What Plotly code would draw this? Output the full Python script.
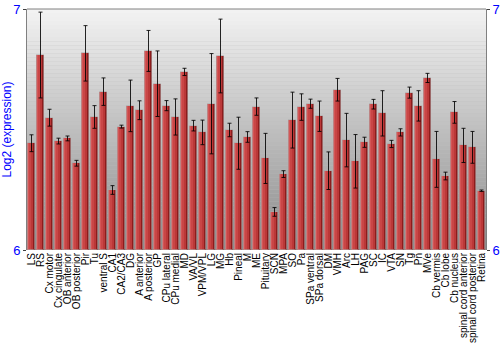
import plotly.graph_objects as go

regions = ["LS", "RS", "Cx motor", "Cx cingulate", "OB anterior", "OB posterior", "Pir", "Tu",
           "ventral S", "CA1", "CA2/CA3", "DG", "A anterior", "A posterior", "GP", "CPu lateral",
           "CPu medial", "MD", "VA/VL", "VPM/VPL", "LG", "MG", "Hb", "Pineal", "M", "ME",
           "Pituitary", "SCN", "MPA", "SO", "Pa", "SPa ventral", "SPa dorsal", "DM", "VMH", "Arc",
           "LH", "PAG", "SC", "IC", "VTA", "SN", "Tg", "Pn", "MVe", "Cb vermis", "Cb lobe",
           "Cb nucleus", "spinal cord anterior", "spinal cord posterior", "Retina"]

expression = [6.443, 6.809, 6.549, 6.452, 6.463, 6.360, 6.816, 6.552,
              6.657, 6.249, 6.512, 6.598, 6.580, 6.826, 6.690, 6.599,
              6.552, 6.739, 6.516, 6.488, 6.607, 6.805, 6.498, 6.443, 6.469, 6.595,
              6.380, 6.158, 6.315, 6.539, 6.593, 6.607, 6.555, 6.329, 6.665, 6.456,
              6.368, 6.447, 6.605, 6.567, 6.440, 6.488, 6.653, 6.598, 6.714, 6.376, 6.307,
              6.571, 6.434, 6.426, 6.246]

errors = [0.035, 0.178, 0.035, 0.012, 0.010, 0.012, 0.115, 0.047,
          0.057, 0.018, 0.006, 0.107, 0.039, 0.085, 0.136, 0.021,
          0.075, 0.015, 0.022, 0.051, 0.208, 0.153, 0.028, 0.108, 0.022, 0.036,
          0.104, 0.018, 0.014, 0.116, 0.055, 0.019, 0.063, 0.078, 0.047, 0.111,
          0.111, 0.021, 0.020, 0.094, 0.015, 0.015, 0.023, 0.063, 0.019, 0.116, 0.016,
          0.045, 0.071, 0.066, 0.003]

y_ticks = [6, 7]

fig = go.Figure()

# red bars with a horizontal light-to-dark shading made of overlaid strips
strips = [
    (-0.44, 0.88, "#a52a2a"),
    (-0.44, 0.62, "#bb3838"),
    (-0.44, 0.36, "#c94646"),
    (-0.40, 0.16, "#d45656"),
    (0.26, 0.18, "#8c1c1c"),
]
for off, w, col in strips:
    fig.add_trace(go.Bar(
        x=regions, y=[v - 6 for v in expression], base=6,
        width=w, offset=off, marker=dict(color=col, line=dict(width=0)),
        hoverinfo="skip", showlegend=False,
    ))

# outline + error bars
fig.add_trace(go.Bar(
    x=regions, y=[v - 6 for v in expression], base=6,
    width=0.88, offset=-0.44,
    marker=dict(color="rgba(0,0,0,0)", line=dict(color="rgba(170,170,170,0.55)", width=1)),
    error_y=dict(type="data", array=errors, visible=True,
                 color="rgba(0,0,0,0.85)", thickness=1, width=2),
    hoverinfo="skip", showlegend=False, yaxis="y2",
))

# gradient background bands
shapes = []
n = 60
top = (242, 242, 242)
bot = (140, 140, 140)
for i in range(n):
    t = i / (n - 1)
    c = tuple(int(round(top[k] + (bot[k] - top[k]) * t)) for k in range(3))
    shapes.append(dict(type="rect", xref="paper", yref="paper",
                       x0=0, x1=1, y0=1 - (i + 1) / n, y1=1 - i / n,
                       fillcolor="rgb(%d,%d,%d)" % c, line=dict(width=0), layer="below"))
shapes.append(dict(type="line", xref="paper", yref="paper", x0=0, x1=1, y0=1, y1=1,
                   line=dict(color="#808080", width=1)))

axis_common = dict(range=[6, 7], tickvals=y_ticks, ticktext=[str(t) for t in y_ticks],
                   ticks="outside", ticklen=3, tickcolor="#404040",
                   tickfont=dict(color="#0000ff", size=13, family="Liberation Sans, Arial"),
                   showgrid=False, zeroline=False, showline=True, linecolor="#808080",
                   fixedrange=True)

fig.update_layout(
    width=500, height=350,
    margin=dict(l=27, r=14, t=9, b=100, pad=0),
    paper_bgcolor="white", plot_bgcolor="rgb(190,190,190)",
    barmode="overlay", bargap=0,
    shapes=shapes,
    font=dict(family="Liberation Sans, Arial", size=10, color="black"),
    xaxis=dict(type="category", tickangle=-90, ticks="", showline=False, showgrid=False,
               tickmode="array", tickvals=regions, ticktext=regions,
               tickfont=dict(size=10, color="black"), automargin=False,
               range=[-0.5, len(regions) - 0.5]),
    yaxis=dict(title=dict(text="Log2 (expression)", font=dict(color="#0000ff", size=12),
                          standoff=2),
               side="left", automargin=False, **axis_common),
    yaxis2=dict(overlaying="y", side="right", automargin=False, **axis_common),
)

fig.write_html("out.html")
